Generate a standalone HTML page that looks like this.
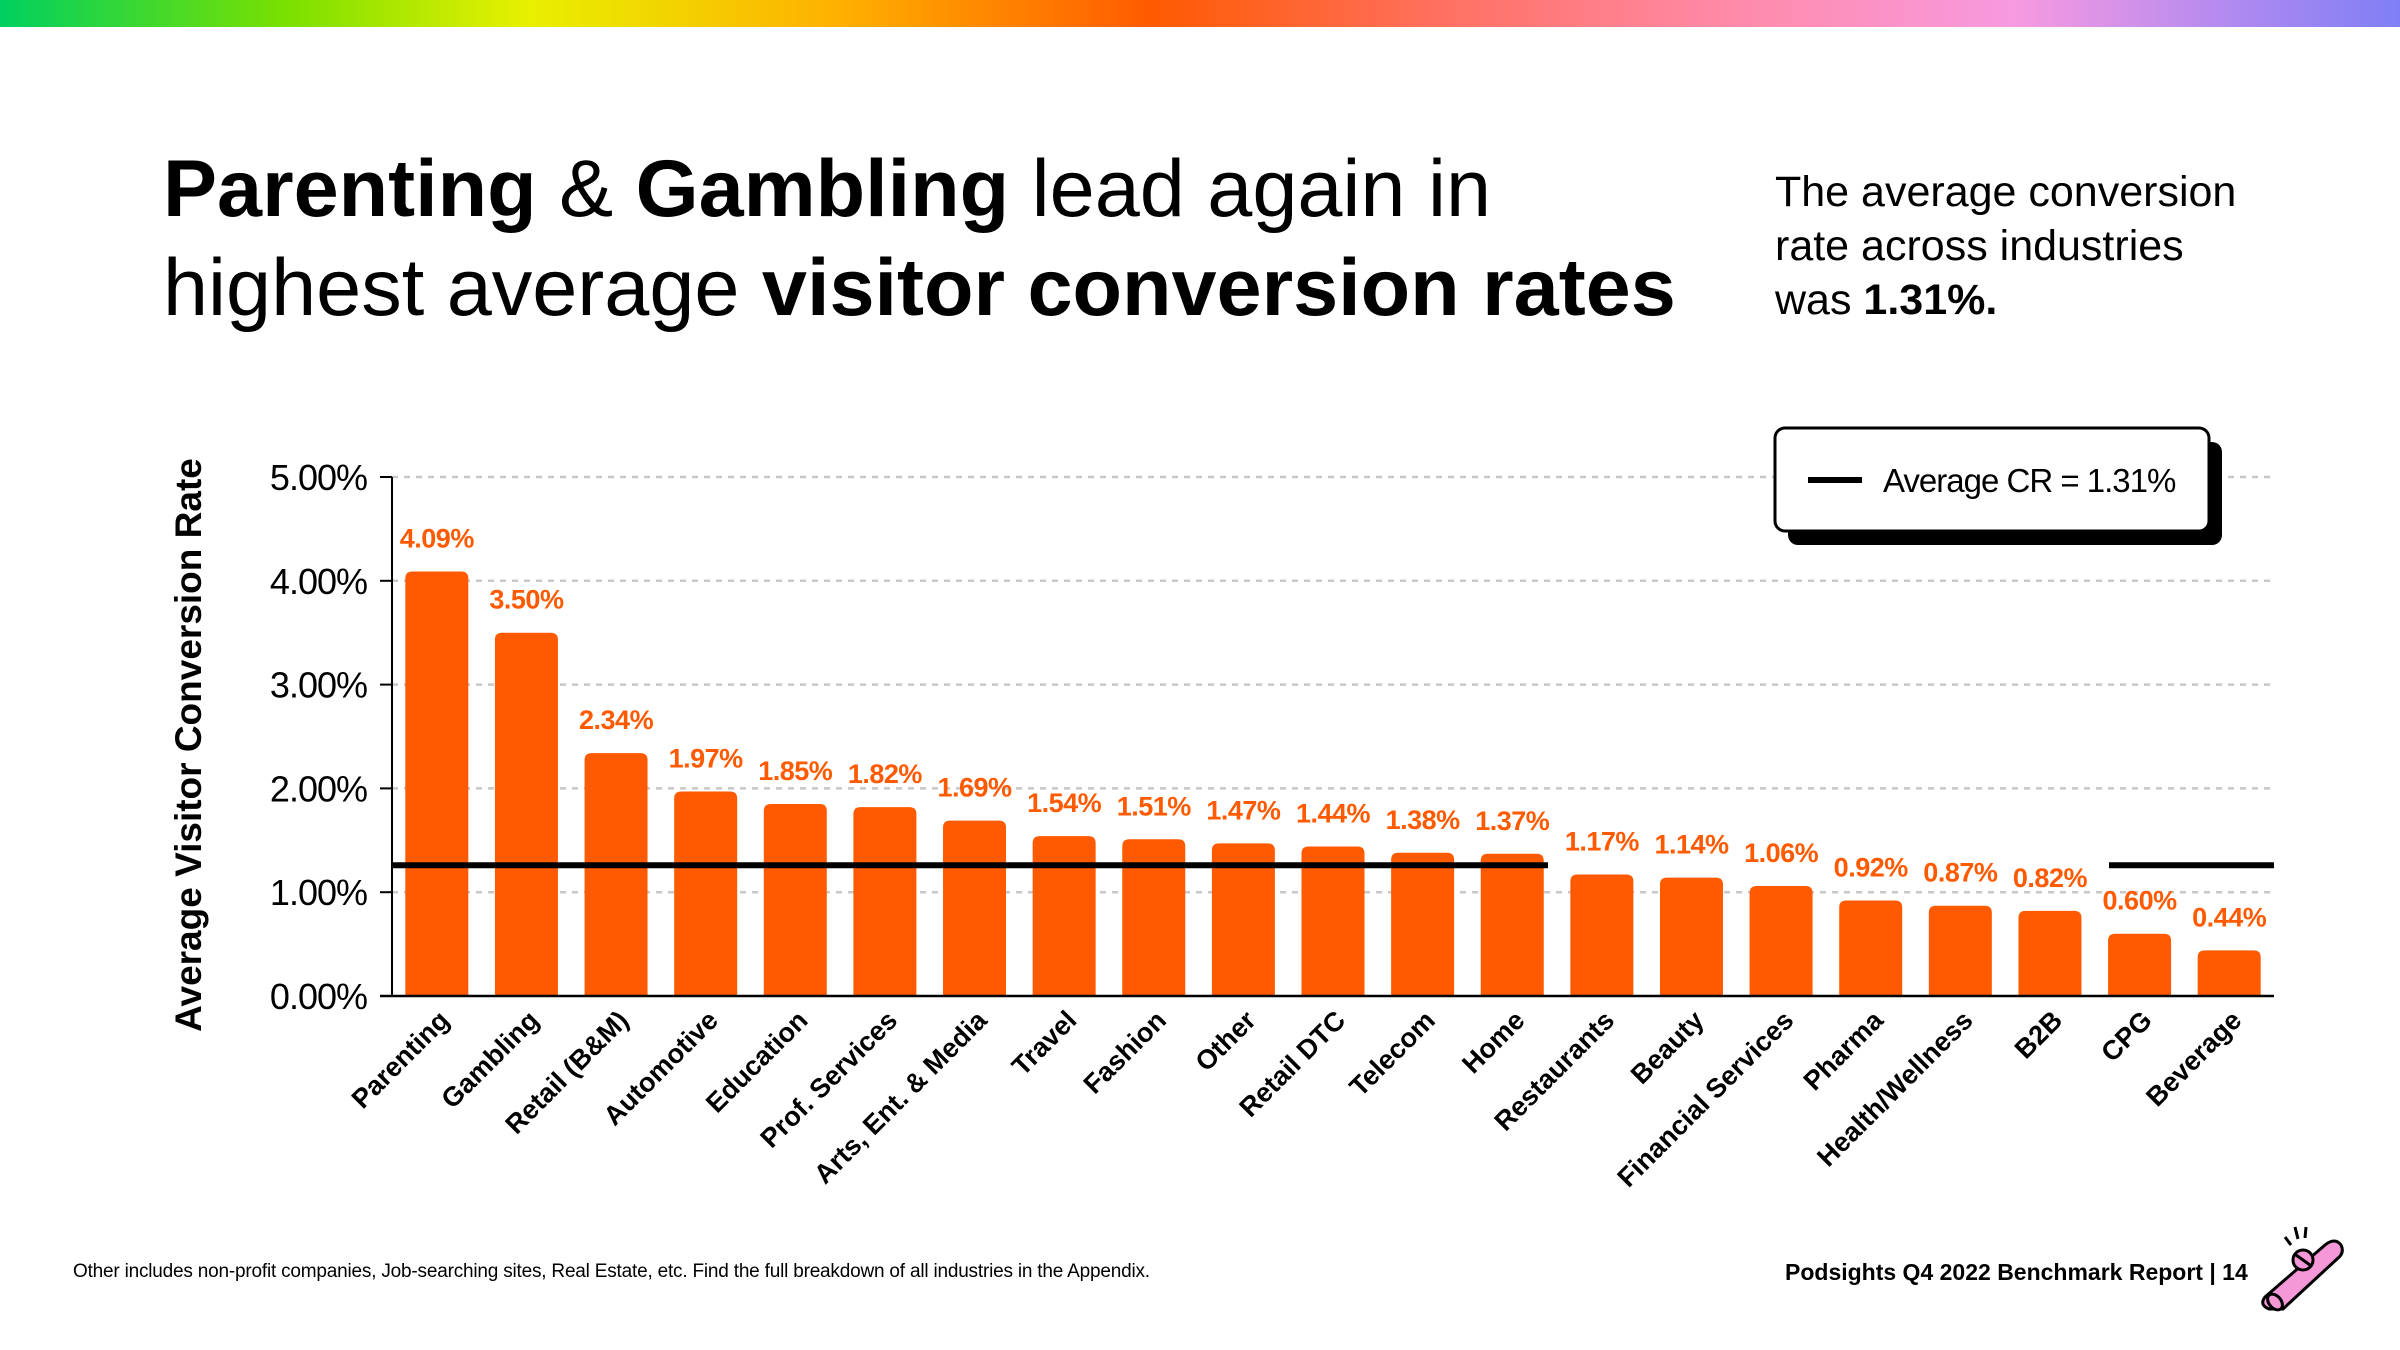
<!DOCTYPE html>
<html><head><meta charset="utf-8">
<style>
html,body{margin:0;padding:0;background:#fff;}
body{width:2400px;height:1350px;overflow:hidden;position:relative;font-family:"Liberation Sans",sans-serif;}
#topbar{position:absolute;left:0;top:0;width:2400px;height:27px;background:linear-gradient(90deg,#00d060 0%,#7be000 12%,#e8f000 22%,#ffb000 35%,#ff5a00 48%,#ff7060 60%,#ff8aa8 72%,#f79ae0 84%,#b08af0 93%,#7f7ff5 100%);}
#title{position:absolute;left:163px;top:140px;font-size:81px;line-height:99px;color:#000;letter-spacing:0px;margin:0;font-weight:normal;}
#subtitle{position:absolute;left:1775px;top:165px;font-size:43px;line-height:54px;color:#000;}
#foot{position:absolute;left:73px;top:1261px;font-size:19px;letter-spacing:-0.2px;color:#000;}
#brand{position:absolute;left:1785px;top:1259px;font-size:23px;font-weight:bold;color:#000;}
</style></head><body>
<div id="topbar"></div>
<h1 id="title"><b>Parenting</b> &amp; <b>Gambling</b> lead again in<br>highest average <b>visitor conversion rates</b></h1>
<div id="subtitle">The average conversion<br>rate across industries<br>was <b>1.31%.</b></div>
<svg id="chart" width="2400" height="1350" style="position:absolute;left:0;top:0" xmlns="http://www.w3.org/2000/svg"></svg>
<div id="foot">Other includes non-profit companies, Job-searching sites, Real Estate, etc. Find the full breakdown of all industries in the Appendix.</div>
<div id="brand">Podsights Q4 2022 Benchmark Report | 14</div>
<svg style="position:absolute;left:2255px;top:1225px" width="100" height="90" viewBox="0 0 100 90">
<path d="M10 72 L70 20 Q80 12 86 20 Q90 28 82 34 L28 84 L14 84 Q4 80 10 72Z" fill="#f598d8" stroke="#000" stroke-width="3"/>
<ellipse cx="20" cy="77" rx="6" ry="9" transform="rotate(-40 20 77)" fill="#f598d8" stroke="#000" stroke-width="3"/>
<circle cx="48" cy="35" r="10" fill="#f598d8" stroke="#000" stroke-width="3"/>
<line x1="41" y1="30" x2="55" y2="40" stroke="#000" stroke-width="3"/>
<line x1="30" y1="12" x2="36" y2="20" stroke="#000" stroke-width="3"/>
<line x1="40" y1="2" x2="43" y2="14" stroke="#000" stroke-width="3"/>
<line x1="51" y1="2" x2="50" y2="13" stroke="#000" stroke-width="3"/>
</svg>
<script>
const categories=["Parenting","Gambling","Retail (B&M)","Automotive","Education","Prof. Services","Arts, Ent. & Media","Travel","Fashion","Other","Retail DTC","Telecom","Home","Restaurants","Beauty","Financial Services","Pharma","Health/Wellness","B2B","CPG","Beverage"];
const values=[4.09,3.50,2.34,1.97,1.85,1.82,1.69,1.54,1.51,1.47,1.44,1.38,1.37,1.17,1.14,1.06,0.92,0.87,0.82,0.60,0.44];
const valueLabels=["4.09%","3.50%","2.34%","1.97%","1.85%","1.82%","1.69%","1.54%","1.51%","1.47%","1.44%","1.38%","1.37%","1.17%","1.14%","1.06%","0.92%","0.87%","0.82%","0.60%","0.44%"];
const yTicks=[0,1,2,3,4,5];
const yTickLabels=["0.00%","1.00%","2.00%","3.00%","4.00%","5.00%"];
const averageLine=[1.26];
const NS="http://www.w3.org/2000/svg";
const svg=document.getElementById('chart');
const X0=392,X1=2274,Y0=996,Y5=477;
const band=(X1-X0)/categories.length;
const y=v=>Y0-(v/5)*(Y0-Y5);
const xc=i=>X0+band*(i+0.5);
function mk(tag,attrs,txt){const e=document.createElementNS(NS,tag);for(const k in attrs)e.setAttribute(k,attrs[k]);if(txt!==undefined)e.textContent=txt;svg.appendChild(e);return e;}
yTicks.forEach((t,i)=>{
  if(t>0){const g=mk('line',{x1:X0,x2:X1,y1:y(t),y2:y(t),stroke:'#c8c8c8','stroke-width':2.5,'stroke-dasharray':'6 6'});
  
  }
  const tk=mk('line',{x1:X0-12,x2:X0,y1:y(t),y2:y(t),stroke:'#000','stroke-width':2});
  
  
  const lb=mk('text',{x:367,y:y(t)+13,'text-anchor':'end','font-size':36,'font-family':'Liberation Sans, sans-serif','letter-spacing':'-1'},yTickLabels[i]);
  
  
});
const bw=63;
values.forEach((v,i)=>{
  const top=y(v),r=7;
  const b=mk('path',{d:`M${xc(i)-bw/2} ${Y0} V${top+r} Q${xc(i)-bw/2} ${top} ${xc(i)-bw/2+r} ${top} H${xc(i)+bw/2-r} Q${xc(i)+bw/2} ${top} ${xc(i)+bw/2} ${top+r} V${Y0} Z`,fill:'#ff5a00'});
  
  
  const t=mk('text',{x:xc(i),y:top-24,'text-anchor':'middle','font-size':27,'font-weight':'bold',fill:'#ff5a00','font-family':'Liberation Sans, sans-serif','letter-spacing':'-0.5'},valueLabels[i]);
  
  
  const c=mk('text',{x:0,y:0,'text-anchor':'end','font-size':27,'font-weight':'bold','font-family':'Liberation Sans, sans-serif',transform:`translate(${xc(i)+14},${Y0+26}) rotate(-45)`},categories[i]);
  
  
});
const ax=mk('line',{x1:X0,x2:X0,y1:Y5,y2:Y0,stroke:'#000','stroke-width':2});


const bx=mk('line',{x1:X0-12,x2:X1,y1:Y0,y2:Y0,stroke:'#000','stroke-width':2.5});


const ay=y(averageLine[0]);
const a1=mk('line',{x1:X0,x2:1548,y1:ay,y2:ay,stroke:'#000','stroke-width':6});


const a2=mk('line',{x1:2109,x2:X1,y1:ay,y2:ay,stroke:'#000','stroke-width':6});


const yt=mk('text',{x:0,y:0,'text-anchor':'middle','font-size':37,'font-weight':'bold','font-family':'Liberation Sans, sans-serif',transform:'translate(201,745) rotate(-90)'},'Average Visitor Conversion Rate');


const sh=mk('rect',{x:1788,y:442,width:434,height:103,rx:10,fill:'#000'});


const lg=mk('rect',{x:1775,y:428,width:434,height:103,rx:10,fill:'#fff',stroke:'#000','stroke-width':3});


const ll=mk('line',{x1:1808,x2:1862,y1:480,y2:480,stroke:'#000','stroke-width':6});


const lt=mk('text',{x:1883,y:492,'font-size':33,'font-family':'Liberation Sans, sans-serif','letter-spacing':'-1'},'Average CR = 1.31%');


</script>
</body></html>
